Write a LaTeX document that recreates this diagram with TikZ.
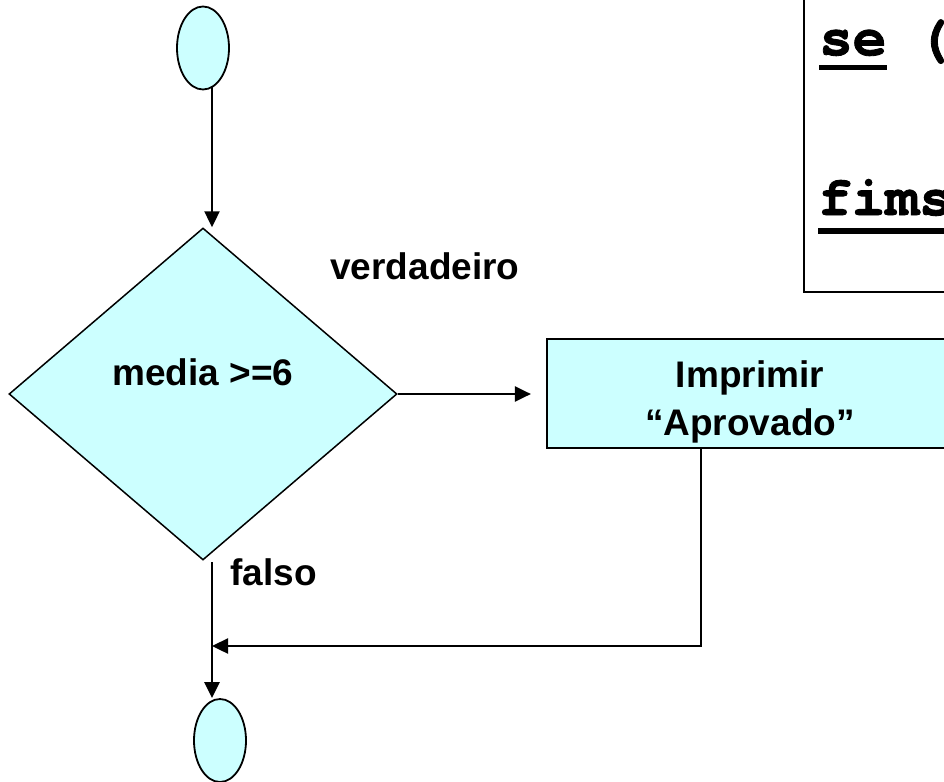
\documentclass[tikz,border=0pt]{standalone}
\usepackage{fontspec}
\setmainfont{Liberation Sans}
\newfontfamily\codefont{TeX Gyre Cursor}[Ligatures=NoCommon, BoldFeatures={FakeBold=1.5}]
\usetikzlibrary{shapes.geometric,arrows.meta,backgrounds}
\definecolor{flowfill}{HTML}{CCFFFF}

\tikzset{
  shapeline/.style={draw=black, fill=flowfill},
  terminal/.style={shapeline, ellipse, line width=1.8pt, inner sep=0pt,
                   minimum width=52pt, minimum height=83pt},
  decision/.style={shapeline, diamond, line width=1.5pt, inner sep=0pt,
                   minimum width=388pt, minimum height=332pt},
  process/.style={shapeline, rectangle, line width=2.2pt, inner sep=0pt,
                  minimum width=406pt, minimum height=109pt},
  codebox/.style={draw=black, fill=white, rectangle, line width=2.2pt, inner sep=0pt},
  label/.style={inner sep=0pt, anchor=base, font=\fontsize{37}{44}\selectfont\bfseries},
  codetext/.style={inner sep=0pt, anchor=base west, font=\fontsize{56}{60}\selectfont\codefont\bfseries},
  uline/.style={line width=5.5pt, line cap=butt},
  flow/.style={line width=2.4pt, -{Triangle[length=16pt,width=15pt]}}
}

\begin{document}
\begin{tikzpicture}[x=1pt, y=-1pt]
\useasboundingbox (0,0) rectangle (944,781);

% code snippet box in the upper right corner
\node[codebox, minimum width=200pt, minimum height=330pt, anchor=south west] (code) at (803,293) {};
\node[codetext] (kwse) at (819,55) {se};
\node[codetext] (paren) at ([xshift=-4pt]kwse.base east) {\hphantom{x}(};
\draw[uline] ([yshift=-12.5pt]kwse.base west) -- ([yshift=-12.5pt]kwse.base east);
\node[codetext] (kwfim) at (818,215) {f\kern0pt ims};
\draw[uline] ([yshift=-16pt]kwfim.base west) -- ([yshift=-16pt,xshift=20pt]kwfim.base east);

% flowchart shapes
\node[terminal] (start) at (203,48) {};
\node[decision] (dec) at (203,394) {};
\node[label] (cond) at (203,385) {media >=6};
\node[process] (print) at (750,393.5) {};
\node[label] (p1) at (750,387) {Imprimir};
\node[label] (p2) at (750,435) {“Aprovado”};
\node[terminal] (stop) at (220,740.5) {};

% branch labels
\node[label] (vlab) at (425,279) {verdadeiro};
\node[label] (flab) at (273.5,585) {falso};

% connectors, kept behind the shapes
\begin{scope}[on background layer]
  \coordinate (a0) at ([xshift=9pt]start.center);
  \draw[flow] (a0) -- (a0 |- dec.north);
  \draw[flow, shorten >=15pt] (dec.east) -- (dec.east -| print.west);
  \coordinate (f0) at ([xshift=9pt,yshift=-1.5pt]dec.south);
  \draw[flow] (f0) -- (f0 |- stop.north);
  \coordinate (r0) at (701,646);
  \draw[flow] (r0 |- print.south) -- (r0) -- (f0 |- r0);
\end{scope}
\end{tikzpicture}
\end{document}
